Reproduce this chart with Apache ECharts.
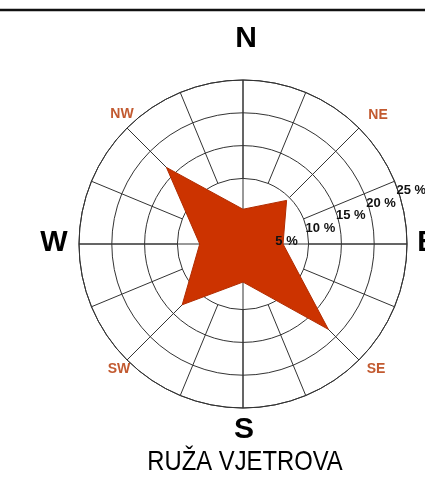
<!DOCTYPE html>
<html>
<head>
<meta charset="utf-8">
<script src="https://cdn.jsdelivr.net/npm/echarts@6/dist/echarts.min.js"></script>
<style>
html,body{margin:0;padding:0;background:#fff;}
#chart{width:425px;height:478px;}
</style>
</head>
<body>
<div id="chart"></div>
<script>
// Wind directions (clockwise from north) and frequency in %
var directions = ['N', 'NE', 'E', 'SE', 'S', 'SW', 'W', 'NW'];
var frequency = [5.3, 9.4, 6.1, 18.4, 5.8, 13.1, 6.6, 16.5];
var ringTicks = [0, 5, 10, 15, 20, 25];
var cardinalLabels = ['N', 'E', 'S', 'W'];
var interLabels = ['NE', 'SE', 'SW', 'NW'];
var titleText = 'RUŽA VJETROVA';

var chart = echarts.init(document.getElementById('chart'));
var C = [243, 244];
var R = 164;
var maxR = ringTicks[ringTicks.length - 1];
var step = ringTicks[1] - ringTicks[0];

var pts = directions.map(function (d, i) { return [frequency[i], i * 360 / directions.length]; });
pts.push([frequency[0], 360]);

var gridColor = '#333333';

var option = {
  backgroundColor: '#ffffff',
  animation: false,
  polar: [
    { center: C, radius: R },
    { center: C, radius: [R * 10 / maxR, R] },
    { center: C, radius: R }
  ],
  angleAxis: [
    { polarIndex: 0, type: 'value', min: 0, max: 360, interval: 90, startAngle: 90, clockwise: true,
      axisLine: { show: true, lineStyle: { color: gridColor, width: 1 } },
      axisTick: { show: false }, axisLabel: { show: false },
      splitLine: { show: true, lineStyle: { color: gridColor, width: 1 } } },
    { polarIndex: 1, type: 'value', min: 0, max: 360, interval: 22.5, startAngle: 90, clockwise: true,
      axisLine: { show: false }, axisTick: { show: false }, axisLabel: { show: false },
      splitLine: { show: true, lineStyle: { color: gridColor, width: 1 } } },
    { polarIndex: 2, type: 'value', min: 0, max: 360, startAngle: 22.5, clockwise: true,
      axisLine: { show: false }, axisTick: { show: false }, axisLabel: { show: false },
      splitLine: { show: false } }
  ],
  radiusAxis: [
    { polarIndex: 0, type: 'value', min: 0, max: maxR, interval: step,
      axisLine: { show: false }, axisTick: { show: false }, axisLabel: { show: false },
      splitLine: { show: true, lineStyle: { color: gridColor, width: 1 } } },
    { polarIndex: 1, type: 'value', min: 0, max: 1,
      axisLine: { show: false }, axisTick: { show: false }, axisLabel: { show: false },
      splitLine: { show: false } },
    { polarIndex: 2, type: 'value', min: 0, max: maxR, interval: step, z: 5,
      axisLine: { show: false }, axisTick: { show: false },
      axisLabel: { show: true, margin: 0, color: '#111', fontSize: 13, fontWeight: 'bold',
        align: 'left', verticalAlign: 'top', padding: [3, 0, 0, 2],
        fontFamily: 'Liberation Sans, Arial, sans-serif',
        formatter: function (v) { return v === 0 ? '' : v + ' %'; } },
      splitLine: { show: false } }
  ],
  series: [{
    type: 'line',
    coordinateSystem: 'polar',
    polarIndex: 0,
    data: pts,
    symbol: 'none',
    smooth: false,
    z: 3,
    lineStyle: { color: '#b02c00', width: 1 },
    areaStyle: { color: '#cc3300', opacity: 1 }
  }],
  graphic: [
    { type: 'line', shape: { x1: 0, y1: 10, x2: 425, y2: 10 }, style: { stroke: '#111', lineWidth: 2.5 } },
    { type: 'text', x: 246, y: 39, style: { text: cardinalLabels[0], font: 'bold 30px "Liberation Sans", Arial, sans-serif', fill: '#000', textAlign: 'center', textVerticalAlign: 'middle' } },
    { type: 'text', x: 427, y: 243, style: { text: cardinalLabels[1], font: 'bold 29px "Liberation Sans", Arial, sans-serif', fill: '#000', textAlign: 'center', textVerticalAlign: 'middle' } },
    { type: 'text', x: 244, y: 430, style: { text: cardinalLabels[2], font: 'bold 30px "Liberation Sans", Arial, sans-serif', fill: '#000', textAlign: 'center', textVerticalAlign: 'middle' } },
    { type: 'text', x: 54, y: 243, style: { text: cardinalLabels[3], font: 'bold 29px "Liberation Sans", Arial, sans-serif', fill: '#000', textAlign: 'center', textVerticalAlign: 'middle' } },
    { type: 'text', x: 378, y: 115, style: { text: interLabels[0], font: 'bold 14px "Liberation Sans", Arial, sans-serif', fill: '#c25a30', textAlign: 'center', textVerticalAlign: 'middle' } },
    { type: 'text', x: 376, y: 369, style: { text: interLabels[1], font: 'bold 14px "Liberation Sans", Arial, sans-serif', fill: '#c25a30', textAlign: 'center', textVerticalAlign: 'middle' } },
    { type: 'text', x: 119, y: 369, style: { text: interLabels[2], font: 'bold 14px "Liberation Sans", Arial, sans-serif', fill: '#c25a30', textAlign: 'center', textVerticalAlign: 'middle' } },
    { type: 'text', x: 122, y: 114, style: { text: interLabels[3], font: 'bold 14px "Liberation Sans", Arial, sans-serif', fill: '#c25a30', textAlign: 'center', textVerticalAlign: 'middle' } },
    { type: 'text', x: 245, y: 462, scaleX: 0.85, style: { text: titleText, font: '28px "Liberation Sans", Arial, sans-serif', fill: '#000', textAlign: 'center', textVerticalAlign: 'middle' } }
  ]
};
chart.setOption(option);
</script>
</body>
</html>
